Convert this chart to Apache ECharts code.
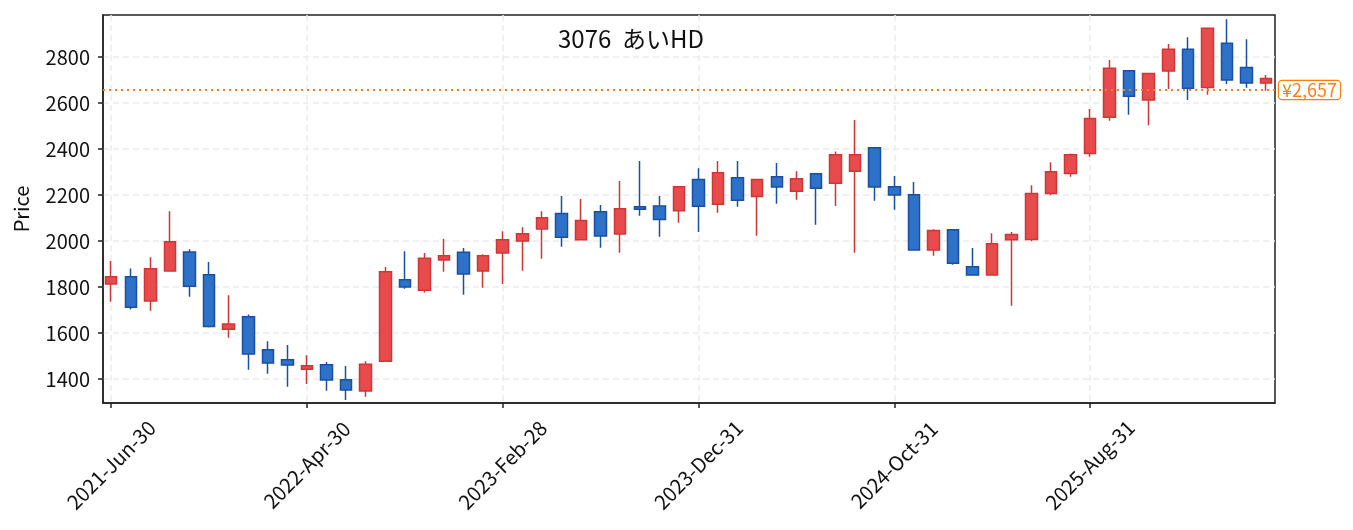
<!DOCTYPE html>
<html lang="ja">
<head>
	<meta charset="UTF-8">
	<title>3076 あいHD</title>
	<style>
		html, body { margin: 0; padding: 0; background: #fff; }
		#main { width: 1353px; height: 530px; }
	</style>
</head>
<body>
	<div id="main"></div>
	<script src="https://cdn.jsdelivr.net/npm/echarts@6/dist/echarts.min.js"></script>
	<script>
		// 月末の日付
		var dates = [
			'2021-Jun-30','2021-Jul-31','2021-Aug-31','2021-Sep-30','2021-Oct-31','2021-Nov-30','2021-Dec-31',
			'2022-Jan-31','2022-Feb-28','2022-Mar-31','2022-Apr-30','2022-May-31','2022-Jun-30','2022-Jul-31',
			'2022-Aug-31','2022-Sep-30','2022-Oct-31','2022-Nov-30','2022-Dec-31',
			'2023-Jan-31','2023-Feb-28','2023-Mar-31','2023-Apr-30','2023-May-31','2023-Jun-30','2023-Jul-31',
			'2023-Aug-31','2023-Sep-30','2023-Oct-31','2023-Nov-30','2023-Dec-31',
			'2024-Jan-31','2024-Feb-29','2024-Mar-31','2024-Apr-30','2024-May-31','2024-Jun-30','2024-Jul-31',
			'2024-Aug-31','2024-Sep-30','2024-Oct-31','2024-Nov-30','2024-Dec-31',
			'2025-Jan-31','2025-Feb-28','2025-Mar-31','2025-Apr-30','2025-May-31','2025-Jun-30','2025-Jul-31',
			'2025-Aug-31','2025-Sep-30','2025-Oct-31','2025-Nov-30','2025-Dec-31',
			'2026-Jan-31','2026-Feb-28','2026-Mar-31','2026-Apr-30','2026-May-31'
		];
		var opens = [
			1813,1845,1739,1870,1953,1854,1617,1671,1527,1484,
			1443,1462,1397,1348,1478,1832,1786,1918,1951,1870,
			1948,2000,2052,2120,2006,2127,2031,2149,2153,2132,
			2268,2160,2275,2194,2280,2217,2293,2252,2304,2406,
			2236,2201,1961,2049,1888,1852,2006,2007,2207,2294,
			2381,2538,2741,2613,2739,2834,2668,2860,2755,2687
		];
		var closes = [
			1845,1712,1880,1997,1804,1629,1640,1509,1470,1461,
			1458,1396,1352,1464,1867,1800,1925,1936,1857,1936,
			2006,2032,2101,2017,2089,2022,2141,2138,2094,2236,
			2152,2297,2178,2268,2235,2271,2230,2375,2375,2235,
			2200,1961,2046,1904,1852,1988,2029,2207,2302,2375,
			2533,2751,2630,2729,2834,2664,2925,2700,2687,2707
		];
		var lows = [
			1736,1703,1697,1868,1758,1624,1580,1441,1423,1367,
			1379,1349,1309,1323,1478,1793,1776,1867,1767,1797,
			1813,1871,1923,1975,2006,1971,1949,2110,2019,2080,
			2039,2123,2149,2023,2162,2180,2071,2153,1949,2175,
			2136,1961,1936,1897,1852,1852,1719,1999,2199,2280,
			2367,2523,2549,2504,2661,2613,2636,2683,2667,2654
		];
		var highs = [
			1913,1881,1930,2130,1965,1909,1765,1681,1565,1548,
			1504,1474,1457,1478,1887,1956,1948,2010,1970,1943,
			2043,2060,2130,2196,2183,2157,2261,2348,2196,2236,
			2317,2348,2348,2268,2339,2304,2293,2390,2526,2406,
			2283,2257,2051,2049,1970,2034,2039,2243,2343,2381,
			2574,2787,2741,2729,2857,2886,2925,2965,2878,2722
		];
		var lastPrice = 2657;
		// 目盛り
		var xTickIdx = [0, 10, 20, 30, 40, 50];
		var yTicks = [1400, 1600, 1800, 2000, 2200, 2400, 2600, 2800];

		var ohlc = [];
		for (var i = 0; i < dates.length; i++) {
			ohlc.push([i, opens[i], closes[i], lows[i], highs[i]]);
		}

		var font = 'Noto Sans CJK JP';
		var gridLine = { color: '#ebebeb', type: [6, 4], width: 1.5 };
		var myChart = echarts.init(document.getElementById('main'));
		var option = {
			animation: false,
			textStyle: { fontFamily: font },
			title: {
				text: '3076  あいHD',
				left: 558,
				top: 27,
				padding: 0,
				textStyle: { fontFamily: font, fontSize: 24, fontWeight: 'normal', color: '#111' }
			},
			grid: {
				left: 103, right: 78, top: 15, bottom: 127,
				show: true,
				borderColor: '#222',
				borderWidth: 1.5
			},
			xAxis: {
				type: 'value',
				min: -0.42,
				max: 59.45,
				splitNumber: 6,
				axisLine: { show: true, onZero: false, lineStyle: { color: '#222', width: 1.5 } },
				axisTick: { show: true, customValues: xTickIdx, length: 5, lineStyle: { color: '#222', width: 1.5 } },
				axisLabel: {
					customValues: xTickIdx,
					formatter: function (v) { return dates[Math.round(v)] || ''; },
					rotate: 45,
					align: 'center',
					verticalAlign: 'middle',
					margin: 62,
					fontSize: 20,
					color: '#111',
					fontFamily: font
				},
				splitLine: { show: true, lineStyle: gridLine }
			},
			yAxis: {
				type: 'value',
				min: 1296,
				max: 2983,
				splitNumber: 8,
				name: 'Price',
				nameLocation: 'middle',
				nameGap: 72,
				nameTextStyle: { fontSize: 20, color: '#111', fontFamily: font },
				axisLine: { show: true, onZero: false, lineStyle: { color: '#222', width: 1.5 } },
				axisTick: { show: true, customValues: yTicks, length: 5, lineStyle: { color: '#222', width: 1.5 } },
				axisLabel: {
					customValues: yTicks,
					formatter: function (v) { return String(v); },
					fontSize: 20,
					color: '#111',
					margin: 13,
					fontFamily: font
				},
				splitLine: { show: true, lineStyle: gridLine }
			},
			series: [{
				type: 'candlestick',
				name: '3076',
				data: ohlc,
				encode: { x: 0, y: [1, 2, 3, 4] },
				barWidth: 12,
				itemStyle: {
					color: '#e84b4b',
					color0: '#2d72c8',
					borderColor: '#d03636',
					borderColor0: '#1a4fa3',
					borderWidth: 1.5
				},
				markLine: {
					symbol: 'none',
					silent: true,
					lineStyle: { color: '#ff7f0e', type: [2, 4], width: 2 },
					label: {
						position: 'end',
						distance: 4,
						formatter: function () { return '¥' + lastPrice.toLocaleString('en-US'); },
						color: '#ff7f0e',
						fontSize: 18,
						fontFamily: font,
						backgroundColor: '#fff',
						borderColor: '#ff7f0e',
						borderWidth: 1.2,
						borderRadius: 3,
						padding: [0, 3]
					},
					data: [{ yAxis: lastPrice }]
				}
			}]
		};
		myChart.setOption(option);
	</script>
</body>
</html>
